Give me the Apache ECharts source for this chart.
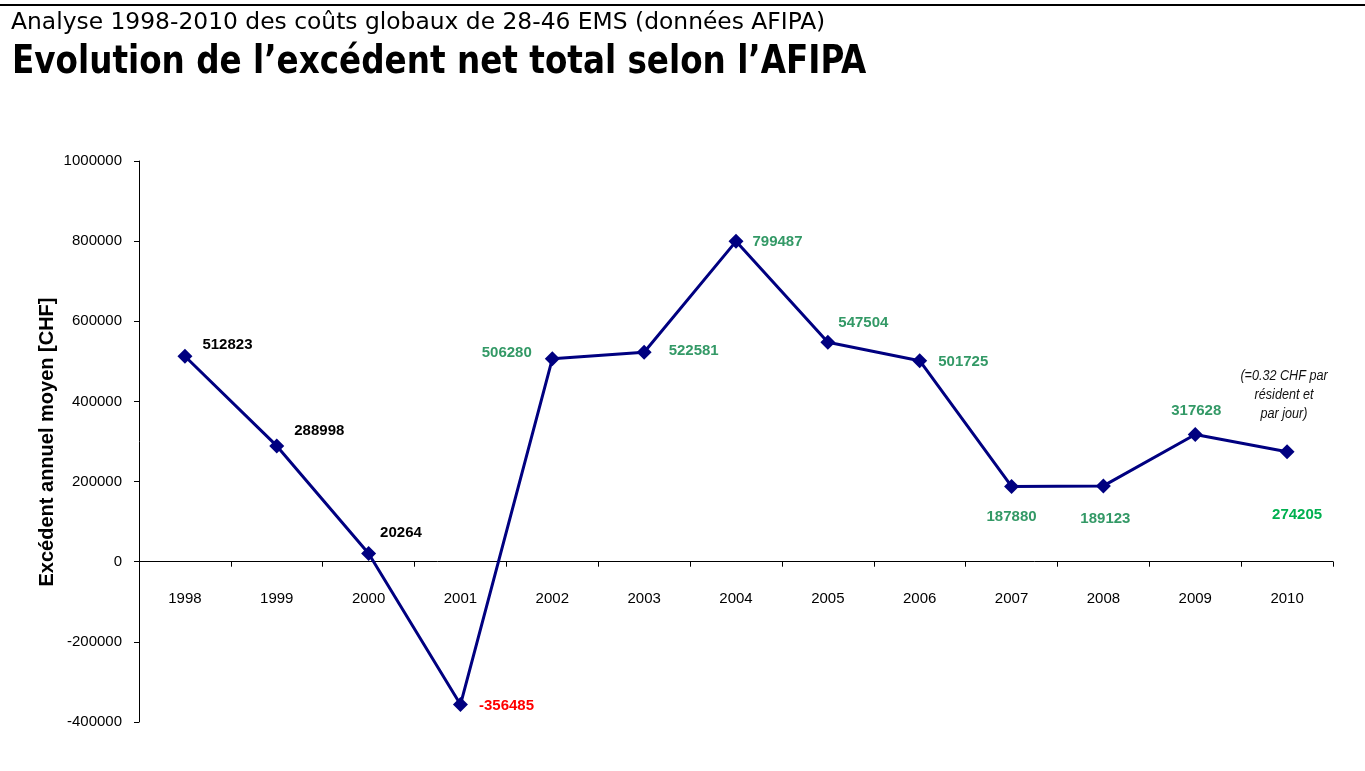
<!DOCTYPE html>
<html><head><meta charset="utf-8">
<script src="https://cdn.jsdelivr.net/npm/echarts@6/dist/echarts.min.js"></script>
<style>html,body{margin:0;padding:0;background:#fff}#c{width:1365px;height:771px}</style>
</head><body><div id="c"></div>
<script>
const years = ['1998','1999','2000','2001','2002','2003','2004','2005','2006','2007','2008','2009','2010'];
const excedent = [512823, 288998, 20264, -356485, 506280, 522581, 799487, 547504, 501725, 187880, 189123, 317628, 274205];
const yTicks = {min: -400000, max: 1000000, interval: 200000};
const subtitle = 'Analyse 1998-2010 des coûts globaux de 28-46 EMS (données AFIPA)';
const title = 'Evolution de l\u2019excédent net total selon l\u2019AFIPA';
const yName = 'Excédent annuel moyen [CHF]';
const note = '(=0.32 CHF par\nrésident et\npar jour)';

// label styling per point (style only)
const labelStyle = [
  {position:'right', distance:10, offset:[0,-11], color:'#000'},
  {position:'right', distance:10, offset:[0,-15], color:'#000'},
  {position:'right', distance:4, offset:[0,-21], color:'#000'},
  {position:'right', distance:11, offset:[0,1], color:'#ff0000'},
  {position:'left', distance:13, offset:[0,-6], color:'#339966'},
  {position:'right', distance:17, offset:[0,-1], color:'#339966'},
  {position:'right', distance:9, offset:[0,1], color:'#339966'},
  {position:'right', distance:3, offset:[0,-19], color:'#339966'},
  {position:'right', distance:11, offset:[0,1], color:'#339966'},
  {position:'bottom', distance:15, offset:[0,0], color:'#339966'},
  {position:'bottom', distance:18, offset:[2,0], color:'#339966'},
  {position:'top', distance:9, offset:[1,0], color:'#339966'},
  {position:'bottom', distance:48, offset:[10,0], color:'#00b050'}
];

const gridTop = 161, gridBottom = 49, chartH = 771;
const plotH = chartH - gridTop - gridBottom;
const zeroOffset = -plotH * (0 - yTicks.min) / (yTicks.max - yTicks.min);
const ff = '"Liberation Sans", Arial, sans-serif';

const chart = echarts.init(document.getElementById('c'));
chart.setOption({
  animation:false,
  backgroundColor:'#fff',
  grid:{left:139, right:32, top:gridTop, bottom:gridBottom, containLabel:false},
  graphic:[
    {type:'rect', left:0, top:4, shape:{width:1365, height:2}, style:{fill:'#000'}},
    {type:'text', x:11, y:12, scaleX:1.13, style:{text:subtitle, font:'23px "DejaVu Sans Condensed", "DejaVu Sans", sans-serif', fill:'#000'}},
    {type:'text', x:12, y:43, scaleX:0.93, style:{text:title, font:'bold 39px "DejaVu Sans Condensed", "DejaVu Sans", sans-serif', fill:'#000'}},
    {type:'text', x:1284, y:367, scaleX:0.9, style:{text:note, font:'italic 14px ' + ff, fill:'#111', align:'center', lineHeight:19}},
    {type:'text', x:47, y:442, rotation:Math.PI/2, style:{text:yName, font:'bold 20px ' + ff, fill:'#000', align:'center', verticalAlign:'middle'}}
  ],
  xAxis:{
    type:'category', data:years, boundaryGap:true,
    offset: zeroOffset,
    axisLine:{onZero:false, lineStyle:{color:'#000', width:1}},
    axisTick:{show:true, inside:false, length:5, interval:0, lineStyle:{color:'#000'}},
    axisLabel:{margin:30, interval:0, color:'#000', fontSize:15, fontFamily:ff},
    splitLine:{show:false}
  },
  yAxis:{
    type:'value', min:yTicks.min, max:yTicks.max, interval:yTicks.interval,
    axisLine:{show:true, lineStyle:{color:'#000', width:1}},
    axisTick:{show:true, length:5, lineStyle:{color:'#000'}},
    axisLabel:{margin:17, color:'#000', fontSize:15, fontFamily:ff, formatter:(v)=>String(v)},
    splitLine:{show:false}
  },
  series:[{
    type:'line',
    data: excedent.map((v,i)=>({value:v, label:{show:true, position:labelStyle[i].position, distance:labelStyle[i].distance, offset:labelStyle[i].offset, color:labelStyle[i].color}})),
    symbol:'diamond', symbolSize:15,
    lineStyle:{color:'#000080', width:3},
    itemStyle:{color:'#000080'},
    label:{show:true, fontWeight:'bold', fontSize:15, fontFamily:ff}
  }]
});
</script></body></html>
